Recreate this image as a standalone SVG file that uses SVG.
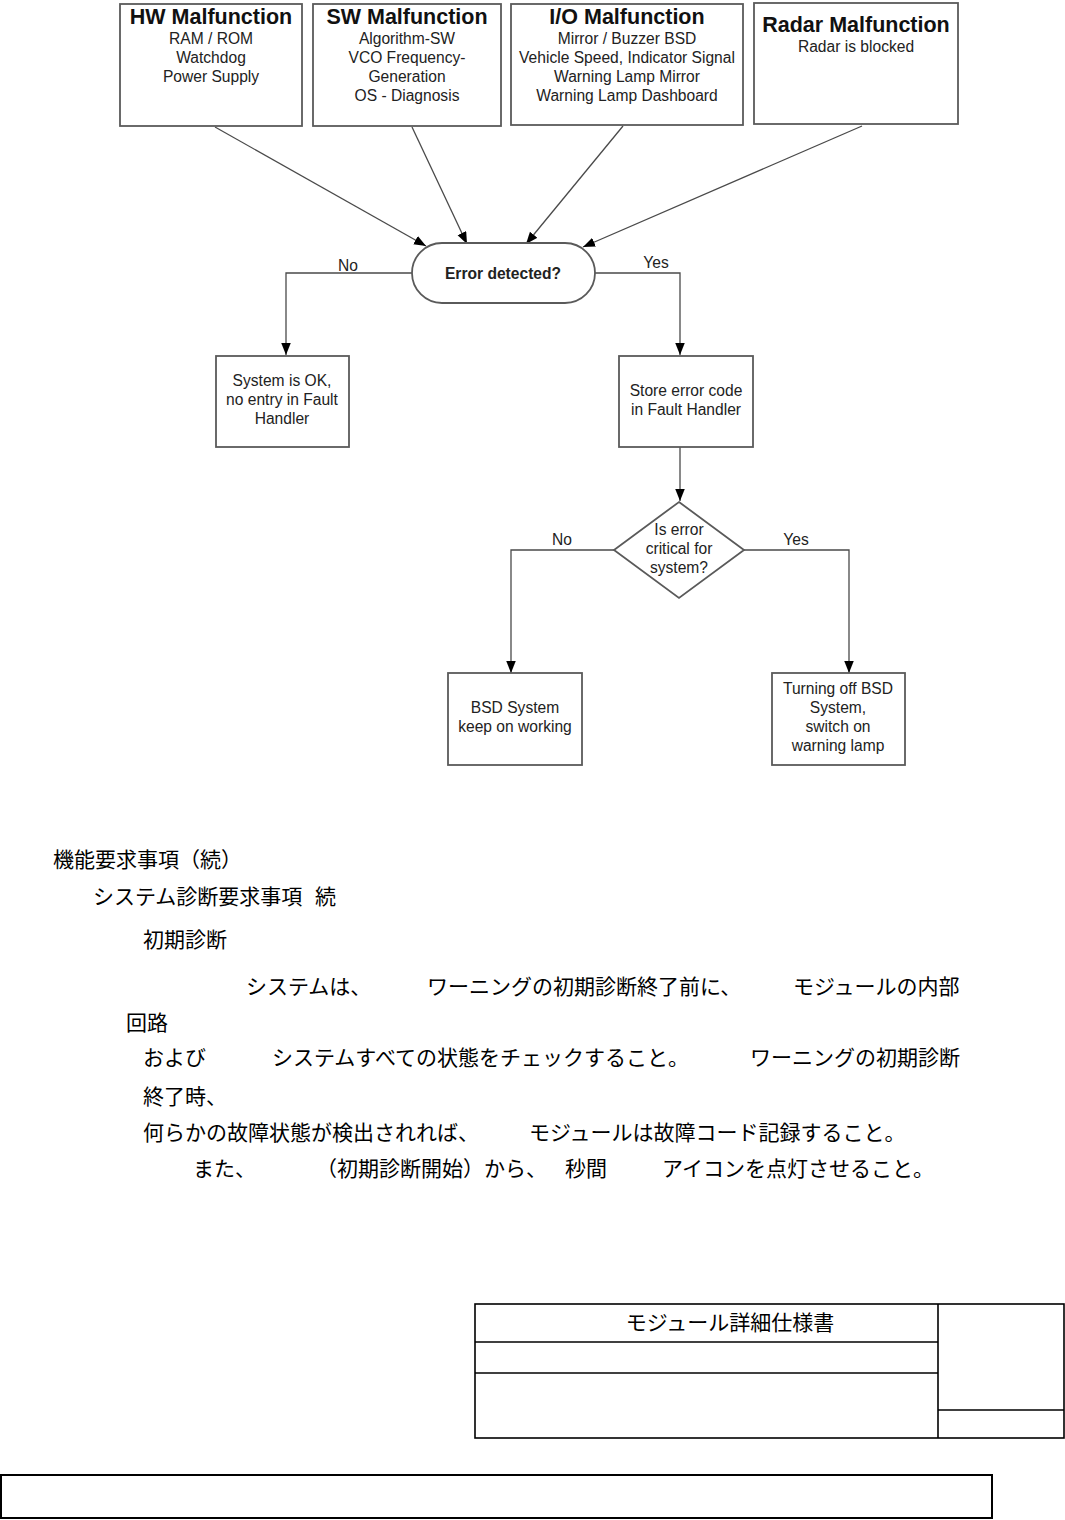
<svg xmlns="http://www.w3.org/2000/svg" width="1065" height="1520" viewBox="0 0 1065 1520">
<style>
.bx{fill:#fff;stroke:#5a5a5a;stroke-width:1.8}
.t{font-family:"Liberation Sans",Arial,sans-serif;font-size:15.6px;fill:#222;text-anchor:middle}
.h{font-family:"Liberation Sans",Arial,sans-serif;font-size:21.5px;font-weight:bold;fill:#111;text-anchor:middle}
.b{font-weight:bold}
.c{fill:none;stroke:#4a4a4a;stroke-width:1.3}
.j{font-family:"Noto Sans CJK JP","Noto Sans CJK SC",sans-serif;font-size:21px;fill:#000}
.tb{fill:none;stroke:#000;stroke-width:1.6}
</style>
<defs>
<marker id="ar" markerWidth="13" markerHeight="10" refX="12" refY="4.75" orient="auto" markerUnits="userSpaceOnUse">
<path d="M0,0 L12,4.75 L0,9.5 z" fill="#000"/>
</marker>
</defs>
<rect width="1065" height="1520" fill="#fff"/>

<g id="connectors">
<path class="c" d="M215,127 L426,246" marker-end="url(#ar)"/>
<path class="c" d="M412,127 L467,244" marker-end="url(#ar)"/>
<path class="c" d="M623,126 L526,244" marker-end="url(#ar)"/>
<path class="c" d="M862,126 L583,247" marker-end="url(#ar)"/>
<path class="c" d="M412,273 H286 V355" marker-end="url(#ar)"/>
<path class="c" d="M595,273 H680 V355" marker-end="url(#ar)"/>
<path class="c" d="M680,447 V501" marker-end="url(#ar)"/>
<path class="c" d="M614,550 H511 V673" marker-end="url(#ar)"/>
<path class="c" d="M744,550 H849 V673" marker-end="url(#ar)"/>
<text class="t" x="348" y="271">No</text>
<text class="t" x="656" y="268">Yes</text>
<text class="t" x="562" y="545">No</text>
<text class="t" x="796" y="545">Yes</text>
</g>

<g id="hw">
<rect class="bx" x="120" y="4" width="182" height="122"/>
<text class="h" x="211" y="24">HW Malfunction</text>
<text class="t" x="211" y="44">RAM / ROM</text>
<text class="t" x="211" y="63">Watchdog</text>
<text class="t" x="211" y="82">Power Supply</text>
</g>
<g id="sw">
<rect class="bx" x="313" y="4" width="188" height="122"/>
<text class="h" x="407" y="24">SW Malfunction</text>
<text class="t" x="407" y="44">Algorithm-SW</text>
<text class="t" x="407" y="63">VCO Frequency-</text>
<text class="t" x="407" y="82">Generation</text>
<text class="t" x="407" y="101">OS - Diagnosis</text>
</g>
<g id="io">
<rect class="bx" x="511" y="4" width="232" height="121"/>
<text class="h" x="627" y="24">I/O Malfunction</text>
<text class="t" x="627" y="44">Mirror / Buzzer BSD</text>
<text class="t" x="627" y="63">Vehicle Speed, Indicator Signal</text>
<text class="t" x="627" y="82">Warning Lamp Mirror</text>
<text class="t" x="627" y="101">Warning Lamp Dashboard</text>
</g>
<g id="radar">
<rect class="bx" x="754" y="3" width="204" height="121"/>
<text class="h" x="856" y="32">Radar Malfunction</text>
<text class="t" x="856" y="52">Radar is blocked</text>
</g>
<g id="error-detected">
<rect class="bx" x="412" y="243" width="183" height="60" rx="30" ry="30"/>
<text class="t b" x="503" y="279">Error detected?</text>
</g>
<g id="system-ok">
<rect class="bx" x="216" y="356" width="133" height="91"/>
<text class="t" x="282" y="386">System is OK,</text>
<text class="t" x="282" y="405">no entry in Fault</text>
<text class="t" x="282" y="424">Handler</text>
</g>
<g id="store-error">
<rect class="bx" x="619" y="356" width="134" height="91"/>
<text class="t" x="686" y="396">Store error code</text>
<text class="t" x="686" y="415">in Fault Handler</text>
</g>
<g id="critical">
<polygon class="bx" points="679,502 744,550 679,598 614,550"/>
<text class="t" x="679" y="535">Is error</text>
<text class="t" x="679" y="554">critical for</text>
<text class="t" x="679" y="573">system?</text>
</g>
<g id="keep-working">
<rect class="bx" x="448" y="673" width="134" height="92"/>
<text class="t" x="515" y="713">BSD System</text>
<text class="t" x="515" y="732">keep on working</text>
</g>
<g id="turn-off">
<rect class="bx" x="772" y="673" width="133" height="92"/>
<text class="t" x="838" y="694">Turning off BSD</text>
<text class="t" x="838" y="713">System,</text>
<text class="t" x="838" y="732">switch on</text>
<text class="t" x="838" y="751">warning lamp</text>
</g>

<g id="body-text">
<text class="j" x="53" y="867">機能要求事項（続）</text>
<text class="j" x="93" y="904">システム診断要求事項</text>
<text class="j" x="315" y="904">続</text>
<text class="j" x="143" y="947">初期診断</text>
<text class="j" x="246" y="994">システムは、</text>
<text class="j" x="427" y="994">ワーニングの初期診断終了前に、</text>
<text class="j" x="793" y="994">モジュールの内部</text>
<text class="j" x="126" y="1030">回路</text>
<text class="j" x="143" y="1065">および</text>
<text class="j" x="272" y="1065">システムすべての状態をチェックすること。</text>
<text class="j" x="750" y="1065">ワーニングの初期診断</text>
<text class="j" x="143" y="1104">終了時、</text>
<text class="j" x="143" y="1140">何らかの故障状態が検出されれば、</text>
<text class="j" x="529" y="1140">モジュールは故障コード記録すること。</text>
<text class="j" x="193" y="1176">また、</text>
<text class="j" x="316" y="1176">（初期診断開始）から、</text>
<text class="j" x="565" y="1176">秒間</text>
<text class="j" x="662" y="1176">アイコンを点灯させること。</text>
</g>

<g id="title-block">
<rect class="tb" x="475" y="1304" width="589" height="134"/>
<line class="tb" x1="938" y1="1304" x2="938" y2="1438"/>
<line class="tb" x1="475" y1="1342" x2="938" y2="1342"/>
<line class="tb" x1="475" y1="1373" x2="938" y2="1373"/>
<line class="tb" x1="938" y1="1410" x2="1064" y2="1410"/>
<text class="j" x="730" y="1330" text-anchor="middle">モジュール詳細仕様書</text>
</g>
<g id="footer">
<rect x="1" y="1475" width="991" height="43" fill="none" stroke="#000" stroke-width="2"/>
</g>
</svg>
